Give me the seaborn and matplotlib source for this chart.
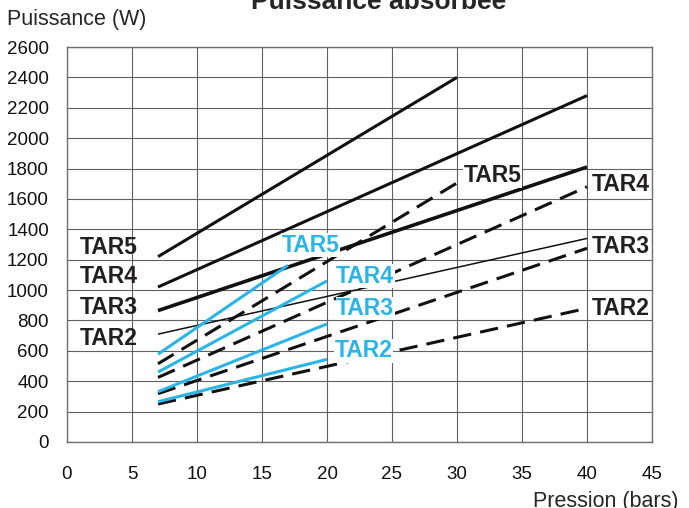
import numpy as np
import pandas as pd
import seaborn as sns
import matplotlib.pyplot as plt

# Data (pression in bars, puissance in W)
tars = ["TAR5", "TAR4", "TAR3", "TAR2"]

p_plein = [[7, 30], [7, 40], [7, 40], [7, 40]]
w_plein = [[1220, 2400], [1020, 2280], [865, 1810], [710, 1340]]

p_tirets = [[7, 30], [7, 40], [7, 40], [7, 40]]
w_tirets = [[515, 1705], [425, 1680], [318, 1275], [250, 880]]

p_bleu = [[7, 17], [7, 20], [7, 20], [7, 20]]
w_bleu = [[578, 1163], [460, 1060], [331, 777], [265, 544]]

# label positions (x, y) in data units
lab_gauche = [(0.95, 1235), (0.95, 1045), (0.95, 843), (0.95, 636)]
lab_droite = [(30.5, 1710), (40.35, 1650), (40.35, 1242), (40.35, 836)]
lab_bleu = [(16.5, 1253), (20.7, 1049), (20.7, 836), (20.6, 558)]

sns.set_style("white")
plt.rcParams['font.family'] = ['Liberation Sans', 'DejaVu Sans']

BLEU = '#2BB4E6'
NOIR = '#111111'

fig = plt.figure(figsize=(6.89, 5.08), dpi=100)
ax = fig.add_axes([67/689, 1 - 442/508, 585/689, 395/508])

for i, t in enumerate(tars):
    lw = 1.1 if t == "TAR2" else (2.6 if t == "TAR3" else 2.2)
    sns.lineplot(x=p_plein[i], y=w_plein[i], color=NOIR, lw=lw, ax=ax,
                 solid_capstyle='butt', zorder=3)
    sns.lineplot(x=p_tirets[i], y=w_tirets[i], color=NOIR, lw=2.2, ax=ax,
                 linestyle=(0, (6, 3)), zorder=3)
    sns.lineplot(x=p_bleu[i], y=w_bleu[i], color=BLEU, lw=2.2, ax=ax,
                 solid_capstyle='butt', zorder=4)

box = dict(facecolor='white', edgecolor='none', pad=0.3)
for i, t in enumerate(tars):
    ax.text(*lab_gauche[i], t, fontsize=16.5, fontweight='bold', color='#231f20',
            ha='left', va='baseline', zorder=5)
    ax.text(*lab_droite[i], t, fontsize=16.5, fontweight='bold', color='#231f20',
            ha='left', va='baseline', bbox=box, zorder=5)
    ax.text(*lab_bleu[i], t, fontsize=16.5, fontweight='bold', color=BLEU,
            ha='left', va='baseline', bbox=box, zorder=5)

ax.set_xlim(0, 45)
ax.set_ylim(0, 2600)
ax.set_xticks(np.arange(0, 46, 5))
ax.set_yticks(np.arange(0, 2601, 200))
ax.set_xticks(np.arange(0, 46, 1), minor=True)
ax.set_yticks(np.arange(0, 2601, 100), minor=True)
ax.grid(True, which='major', color='#606060', lw=0.8)
ax.set_axisbelow(True)
ax.tick_params(which='major', direction='out', length=6, width=0.8,
               color='#606060', labelsize=13.5, labelcolor='#111111', pad=7)
ax.tick_params(which='minor', direction='out', length=4, width=0.8,
               color='#606060')
ax.tick_params(axis='x', which='major', pad=11)
for s in ax.spines.values():
    s.set_color('#707070')
    s.set_linewidth(1.0)
ax.set_xlabel('')
ax.set_ylabel('')

fig.text(7/689, 1 - 25/508, 'Puissance (W)', fontsize=15.5, ha='left', va='baseline')
fig.text(533/689, 1 - 507/508, 'Pression (bars)', fontsize=15.5, ha='left', va='baseline')
fig.text(379/689, 1 - 9/508, 'Puissance absorbée', fontsize=19, fontweight='bold',
         ha='center', va='baseline')

fig.savefig('out.png', dpi=100)
